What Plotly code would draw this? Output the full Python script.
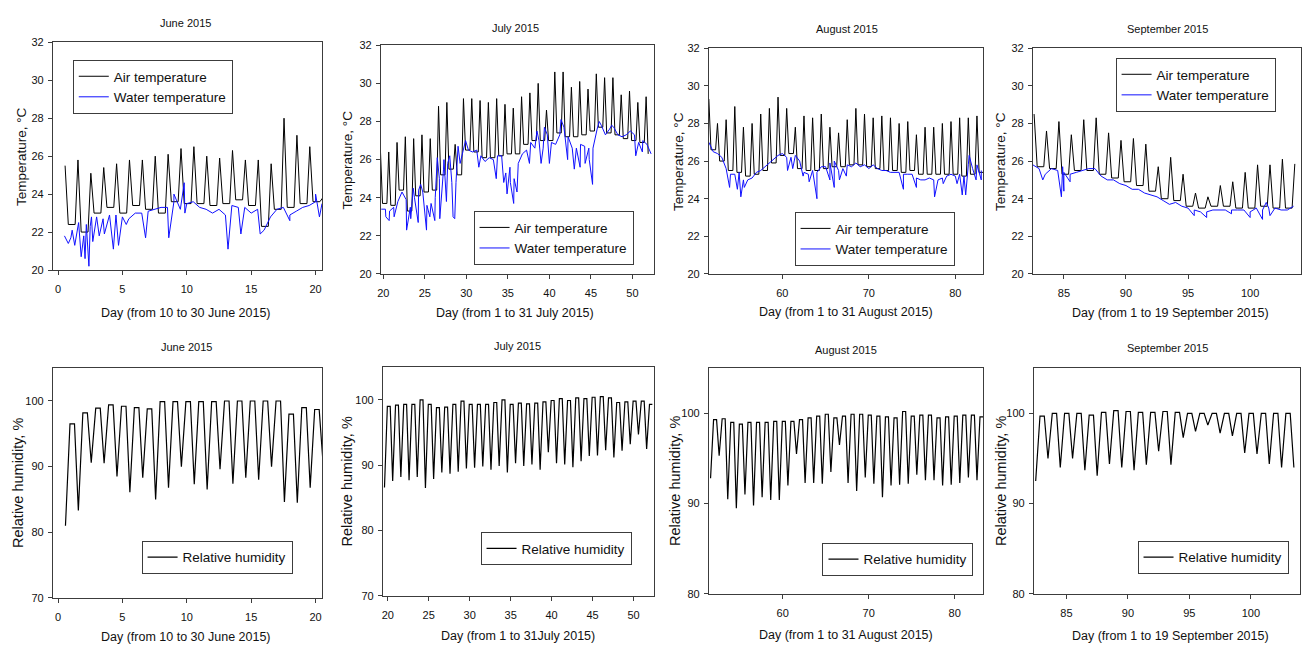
import plotly.graph_objects as go

# ---------------- data (Day index, values read per day) ----------------
# June: days 0..20
jun_days = list(range(0, 21))
jun_air_hi = [25.5, 25.8, 25.1, 25.4, 25.6, 25.8, 25.8, 26.0, 26.1, 26.4, 26.5, 26.0, 25.9, 26.3,
              25.8, 25.8, 25.6, 28.0, 27.1, 26.5, 23.8]
jun_air_lo = [25.0, 22.4, 22.0, 23.0, 23.3, 23.0, 23.4, 23.2, 23.0, 23.6, 23.5, 23.5, 23.4, 23.5,
              23.7, 23.4, 22.3, 23.2, 23.3, 23.5, 23.6]
jun_water_start = 0.5
jun_water = [21.8, 21.7, 22.1, 21.8, 22.3, 22.8, 22.7, 22.9, 22.9, 22.8, 22.7, 23.0, 23.0, 23.1,
             23.2, 23.3, 23.3, 23.6, 23.2, 23.5, 23.6, 23.3, 23.2, 23.0, 23.2, 22.9, 23.4, 23.3,
             23.3, 23.0, 23.2, 22.1, 22.8, 23.2, 23.3, 22.9, 23.1, 23.3, 23.4, 23.6, 23.5]
jun_water_spike_x = [0.8, 1.1, 1.3, 1.6, 1.8, 2.1, 2.2, 2.4, 2.6, 2.7, 3.2, 3.6, 4.3, 4.7, 5.3,
                     6.8, 8.6, 9.0, 9.8, 9.85, 13.2, 14.2, 15.7, 18.0, 20.0, 20.3]
jun_water_spike_y = [21.4, 22.1, 21.3, 22.5, 20.7, 20.6, 22.4, 20.2, 22.8, 21.5, 21.8, 21.9, 21.1,
                     21.3, 22.4, 21.7, 21.7, 24.0, 24.6, 23.0, 21.1, 21.9, 21.9, 22.6, 24.0, 22.8]
jun_rh_top = [84.0, 96.5, 98.2, 98.9, 99.4, 99.2, 99.0, 98.8, 99.9, 99.9, 99.9, 99.9, 99.9, 100.0,
              100.0, 100.0, 100.0, 100.0, 98.0, 99.0, 98.7]
jun_rh_low = [81.0, 83.3, 90.6, 90.5, 88.5, 86.1, 88.3, 85.0, 86.8, 90.0, 87.3, 86.5, 89.6, 87.4,
              88.3, 88.0, 90.0, 84.6, 84.5, 86.8, 90.5]

# July: days 19..52
jul_days = list(range(19, 53))
jul_air_hi = [26.5, 26.4, 26.9, 27.2, 27.1, 27.3, 27.1, 28.8, 29.0, 26.8, 29.2, 29.2, 29.1, 29.0,
              29.2, 28.9, 28.7, 29.3, 29.5, 30.0, 28.6, 30.6, 30.6, 29.8, 30.1, 29.7, 30.5, 30.3,
              30.3, 29.4, 29.6, 29.0, 29.3, 26.3]
jul_air_lo = [25.0, 23.7, 23.6, 24.4, 23.3, 24.1, 24.3, 24.4, 25.2, 25.5, 25.2, 26.5, 26.4, 26.1,
              26.1, 26.2, 26.3, 26.3, 26.8, 27.0, 27.0, 27.0, 27.4, 27.2, 27.2, 27.3, 27.5, 27.7,
              27.4, 27.3, 27.1, 27.0, 26.9, 26.3]
jul_water_start = 19.75
jul_water = [23.4, 23.4, 23.3, 23.5, 23.8, 24.3, 23.9, 23.5, 24.0, 24.4, 24.3, 23.6, 23.7, 24.0,
             25.0, 25.5, 25.8, 24.8, 24.8, 25.8, 26.8, 26.5, 26.4, 26.5, 26.2, 25.9, 26.1, 26.0,
             26.2, 26.2, 25.3, 25.6, 25.0, 25.8, 26.3, 26.5, 26.9, 26.6, 27.0, 26.6, 27.3, 26.9,
             26.8, 27.3, 27.7, 27.2, 26.6, 26.6, 26.8, 26.7, 26.6, 26.6, 27.6, 27.8, 27.3, 27.6,
             27.7, 27.3, 27.2, 27.3, 27.5, 27.3, 26.9, 27.0, 26.8, 26.3]
jul_water_spike_x = [20.3, 20.7, 21.3, 22.8, 23.3, 23.6, 24.2, 24.5, 25.2, 25.6, 26.2, 26.5, 26.8,
                     27.3, 27.6, 28.0, 28.4, 28.6, 29.0, 29.9, 31.5, 33.6, 34.5, 34.9, 35.3, 35.7,
                     36.1, 37.6, 38.5, 39.0, 39.4, 40.0, 41.4, 42.2, 43.0, 43.7, 44.3, 44.8, 45.2,
                     46.0, 47.5, 50.4, 51.2]
jul_water_spike_y = [23.0, 22.8, 23.0, 22.3, 22.9, 24.5, 22.7, 24.7, 22.3, 23.0, 22.8, 26.1, 22.9,
                     26.0, 23.8, 26.2, 23.0, 22.9, 26.7, 27.0, 25.6, 25.0, 24.8, 24.2, 24.8, 23.7,
                     24.3, 25.8, 27.5, 25.8, 27.7, 25.8, 28.1, 26.0, 25.5, 25.6, 25.8, 26.0, 24.7,
                     28.0, 27.8, 26.2, 26.4]
jul_rh_top = [90.0, 99.0, 99.2, 99.3, 99.3, 100.0, 99.3, 98.8, 98.9, 99.3, 99.8, 99.3, 99.3, 99.3,
              99.6, 100.0, 99.3, 99.5, 99.4, 99.5, 99.7, 99.9, 100.2, 99.9, 100.3, 100.2, 100.4,
              100.5, 100.3, 99.6, 99.7, 99.8, 99.8, 99.3]
jul_rh_low = [86.6, 87.6, 88.2, 87.7, 88.2, 86.5, 87.9, 88.9, 88.7, 89.0, 89.5, 89.6, 89.8, 89.3,
              89.9, 88.9, 90.3, 89.9, 90.1, 89.3, 92.0, 90.3, 90.1, 89.7, 90.6, 91.4, 91.5, 92.3,
              91.2, 92.2, 93.2, 94.7, 92.5, 98.0]

# August: days 51..83
aug_days = list(range(51, 84))
aug_air_hi = [29.3, 28.0, 28.2, 28.9, 27.8, 28.0, 28.5, 28.8, 29.4, 28.8, 27.8, 28.4, 28.3, 28.5,
              27.8, 27.5, 28.2, 28.8, 28.5, 28.3, 28.4, 28.3, 28.0, 28.1, 27.4, 27.8, 27.8, 28.0,
              28.1, 28.3, 28.3, 28.4, 27.0]
aug_air_lo = [27.0, 26.6, 26.0, 25.5, 25.4, 25.2, 25.3, 25.5, 25.9, 26.3, 26.4, 25.6, 25.5, 25.5,
              25.6, 25.7, 25.7, 25.8, 25.8, 25.7, 25.6, 25.5, 25.5, 25.4, 25.5, 25.3, 25.3, 25.3,
              25.3, 25.3, 25.2, 25.3, 25.4]
aug_water_start = 51.5
aug_water = [27.0, 26.5, 26.4, 26.2, 25.6, 25.3, 25.3, 25.4, 25.0, 25.0, 25.1, 25.4, 25.5, 25.7,
             25.9, 26.1, 26.3, 26.4, 26.2, 26.2, 26.3, 26.0, 25.4, 25.3, 25.5, 25.4, 25.7, 25.7,
             25.9, 26.0, 25.5, 25.6, 25.8, 25.7, 25.9, 25.7, 25.8, 25.6, 25.8, 25.6, 25.5, 25.5,
             25.4, 25.4, 25.4, 25.3, 25.3, 25.3, 25.1, 25.0, 25.0, 25.1, 25.0, 25.0, 25.1, 25.2,
             25.3, 25.2, 25.3, 25.2, 25.8, 25.6, 25.8, 25.5]
aug_water_spike_x = [53.9, 54.8, 55.2, 55.6, 60.6, 61.2, 62.4, 63.1, 64.0, 65.5, 66.0, 66.6, 67.4,
                     74.0, 75.5, 77.6, 78.6, 80.2, 80.8, 81.2, 81.6, 82.4, 83.0]
aug_water_spike_y = [24.6, 24.5, 24.1, 24.6, 25.5, 25.6, 25.2, 24.9, 24.0, 25.0, 24.6, 25.0, 25.2,
                     24.5, 24.6, 24.1, 24.8, 24.8, 24.2, 24.2, 26.3, 25.0, 25.0]
aug_rh_top = [95.3, 99.3, 99.4, 99.0, 98.8, 99.0, 99.0, 99.0, 99.1, 99.1, 99.1, 99.3, 99.5, 99.7,
              99.9, 99.5, 99.7, 99.9, 99.9, 99.8, 99.7, 99.6, 99.5, 100.2, 99.7, 99.8, 99.8, 99.5,
              99.6, 99.7, 99.8, 99.8, 99.6]
aug_rh_low = [92.8, 95.3, 90.5, 89.5, 91.0, 89.8, 90.7, 90.4, 90.4, 92.0, 95.5, 92.3, 92.3, 92.2,
              93.5, 96.5, 92.3, 91.4, 92.9, 92.2, 90.7, 92.0, 92.1, 92.2, 93.2, 92.6, 92.6, 92.0,
              92.1, 92.3, 92.9, 92.6, 96.3]

# September: days 82..103
sep_days = list(range(82, 104))
sep_air_hi = [28.5, 27.6, 28.1, 27.4, 28.2, 28.3, 27.5, 27.1, 27.2, 26.9, 25.7, 26.2, 25.3, 24.3,
              24.1, 24.7, 24.9, 25.4, 25.8, 25.8, 26.1, 25.85]
sep_air_lo = [28.0, 25.7, 25.6, 25.3, 25.5, 25.5, 25.3, 25.1, 24.9, 24.7, 24.4, 24.0, 23.9, 23.6,
              23.5, 23.6, 23.6, 23.5, 23.5, 23.6, 23.5, 23.5]
sep_water_start = 82.5
sep_water = [25.8, 25.6, 25.3, 25.6, 25.5, 25.4, 25.3, 25.4, 25.5, 25.6, 25.6, 25.2, 25.0, 25.0,
             24.8, 24.7, 24.5, 24.5, 24.3, 24.2, 24.1, 23.9, 23.7, 23.8, 23.6, 23.5, 23.4, 23.3,
             23.3, 23.4, 23.4, 23.4, 23.4, 23.4, 23.4, 23.3, 23.5, 23.4, 23.5, 23.5, 23.4, 23.4,
             23.6]
sep_water_spike_x = [83.3, 84.8, 84.9, 85.0, 85.5, 95.5, 96.5, 98.5, 100.0, 101.0, 101.3, 101.6]
sep_water_spike_y = [25.0, 24.1, 25.7, 24.4, 24.9, 23.1, 23.0, 23.2, 23.0, 22.9, 23.8, 23.1]
sep_rh_top = [93.0, 99.7, 100.0, 100.0, 100.0, 99.8, 100.1, 100.3, 100.2, 100.1, 100.1, 100.2,
              100.1, 100.0, 100.0, 100.0, 100.0, 100.0, 100.0, 100.0, 100.0, 100.0]
sep_rh_low = [92.5, 95.0, 94.0, 95.0, 93.7, 93.1, 94.4, 94.0, 93.7, 94.3, 95.8, 94.3, 97.3, 98.0,
              98.7, 97.8, 97.5, 95.6, 95.5, 94.4, 94.0, 94.0]

# ---------------- helpers ----------------
W, H = 1309, 649
FONT = "Liberation Sans, Arial, sans-serif"
AIR_COLOR = "#000000"
WATER_COLOR = "#1010ff"
FRAME = "#3c3c3c"


def daily_cycle(days, base, extreme, t_ext, lead, lag, start, end):
    """One excursion per day: level `base` until `lead` days before the
    extreme at day+t_ext, back to the next day's base `lag` days after."""
    xs, ys = [], []
    for d, b, e in zip(days, base, extreme):
        for x, y in ((d + t_ext - (1 - lag), b), (d + t_ext - lead, b), (d + t_ext, e)):
            if start <= x <= end:
                xs.append(round(x, 3))
                ys.append(y)
    return xs, ys


def half_day_series(start, levels, spike_x, spike_y):
    pts = [(start + 0.5 * k, v) for k, v in enumerate(levels)]
    pts += list(zip(spike_x, spike_y))
    pts.sort()
    return [p[0] for p in pts], [p[1] for p in pts]


def px_box(x0, y0, x1, y1):
    return [x0 / W, x1 / W], [1 - y1 / H, 1 - y0 / H]


# ---------------- panel definitions ----------------
panels = [
    # temperature row
    dict(box=(49, 37, 319, 269), xr=[-0.4, 20.5], yr=[20, 32], xt=[0, 5, 10, 15, 20],
         yt=[20, 22, 24, 26, 28, 30, 32], title="June 2015", title_xy=(182, 17),
         xtitle="Day (from 10 to 30 June 2015)", xtitle_xy=(183, 313),
         ytitle="Temperature, °C", ytitle_x=17, leg=(69, 55)),
    dict(box=(378, 40, 652, 273), xr=[19.7, 52.6], yr=[20, 32], xt=[20, 25, 30, 35, 40, 45, 50],
         yt=[20, 22, 24, 26, 28, 30, 32], title="July 2015", title_xy=(513, 22),
         xtitle="Day (from 1 to 31 July 2015)", xtitle_xy=(513, 313),
         ytitle="Temperature, °C", ytitle_x=345, leg=(471, 209)),
    dict(box=(707, 43, 982, 273), xr=[51.5, 83.2], yr=[20, 32], xt=[60, 70, 80],
         yt=[20, 22, 24, 26, 28, 30, 32], title="August 2015", title_xy=(846, 23),
         xtitle="Day (from 1 to 31 August 2015)", xtitle_xy=(845, 312),
         ytitle="Temperature, °C", ytitle_x=676, leg=(793, 210)),
    dict(box=(1032, 43, 1301, 273), xr=[82.5, 104.1], yr=[20, 32], xt=[85, 90, 95, 100],
         yt=[20, 22, 24, 26, 28, 30, 32], title="September 2015", title_xy=(1167, 23),
         xtitle="Day (from 1 to 19 September 2015)", xtitle_xy=(1170, 313),
         ytitle="Temperature, °C", ytitle_x=999, leg=(1115, 53)),
    # humidity row
    dict(box=(49, 369, 319, 603), xr=[-0.4, 20.5], yr=[70, 105], xt=[0, 5, 10, 15, 20],
         yt=[70, 80, 90, 100], title="June 2015", title_xy=(183, 347),
         xtitle="Day (from 10 to 30 June 2015)", xtitle_xy=(183, 643),
         ytitle="Relative humidity, %", ytitle_x=14, leg=(138, 545)),
    dict(box=(380, 368, 652, 601), xr=[19.4, 52.5], yr=[70, 105], xt=[20, 25, 30, 35, 40, 45, 50],
         yt=[70, 80, 90, 100], title="July 2015", title_xy=(515, 346),
         xtitle="Day (from 1 to 31July 2015)", xtitle_xy=(516, 642),
         ytitle="Relative humidity, %", ytitle_x=344, leg=(478, 536)),
    dict(box=(707, 369, 982, 599), xr=[51.4, 83.3], yr=[80, 105], xt=[60, 70, 80],
         yt=[80, 90, 100], title="August 2015", title_xy=(845, 350),
         xtitle="Day (from 1 to 31 August 2015)", xtitle_xy=(845, 641),
         ytitle="Relative humidity, %", ytitle_x=673, leg=(821, 547)),
    dict(box=(1033, 369, 1300, 599), xr=[82.35, 104.0], yr=[80, 105], xt=[85, 90, 95, 100],
         yt=[80, 90, 100], title="September 2015", title_xy=(1167, 348),
         xtitle="Day (from 1 to 19 September 2015)", xtitle_xy=(1170, 642),
         ytitle="Relative humidity, %", ytitle_x=1000, leg=(1137, 545)),
]

# series per panel
temp_sets = [
    (jun_days, jun_air_lo, jun_air_hi, 0.55, 0.5, 20.6,
     jun_water_start, jun_water, jun_water_spike_x, jun_water_spike_y),
    (jul_days, jul_air_lo, jul_air_hi, 0.65, 19.6, 52.4,
     jul_water_start, jul_water, jul_water_spike_x, jul_water_spike_y),
    (aug_days, aug_air_lo, aug_air_hi, 0.5, 51.45, 83.3,
     aug_water_start, aug_water, aug_water_spike_x, aug_water_spike_y),
    (sep_days, sep_air_lo, sep_air_hi, 0.6, 82.45, 103.6,
     sep_water_start, sep_water, sep_water_spike_x, sep_water_spike_y),
]
rh_sets = [
    (jun_days, jun_rh_top, jun_rh_low, 0.58, 0.45, 20.6),
    (jul_days, jul_rh_top, jul_rh_low, 0.6, 19.45, 52.45),
    (aug_days, aug_rh_top, aug_rh_low, 0.6, 51.45, 83.3),
    (sep_days, sep_rh_top, sep_rh_low, 0.5, 82.45, 103.55),
]

fig = go.Figure()
layout = dict(width=W, height=H, margin=dict(l=0, r=0, t=0, b=0),
              paper_bgcolor="white", plot_bgcolor="white", showlegend=True,
              font=dict(family=FONT, color="#111111"))
annotations = []

for i, p in enumerate(panels):
    n = i + 1
    sfx = "" if n == 1 else str(n)
    xd, yd = px_box(*p["box"])
    axis_common = dict(showline=True, mirror=True, linecolor=FRAME, linewidth=1,
                       ticks="outside", ticklen=4, tickwidth=1, tickcolor=FRAME,
                       showgrid=False, zeroline=False,
                       tickfont=dict(family=FONT, size=11, color="#111111"))
    layout["xaxis" + sfx] = dict(axis_common, domain=xd, range=p["xr"], tickvals=p["xt"],
                                 anchor="y" + sfx, ticklabelstandoff=5)
    layout["yaxis" + sfx] = dict(axis_common, domain=yd, range=p["yr"], tickvals=p["yt"],
                                 anchor="x" + sfx, ticklabelstandoff=2)
    leg_name = "legend" + sfx
    lx, ly = p["leg"]
    layout[leg_name] = dict(x=lx / W, y=1 - ly / H, xanchor="left", yanchor="top",
                            bgcolor="white", bordercolor=FRAME, borderwidth=1,
                            font=dict(family=FONT, size=13.5, color="#111111"),
                            itemwidth=30, tracegroupgap=0, traceorder="normal")

    if i < 4:
        days, lo, hi, tp, s, e, ws, wl, sx, sy = temp_sets[i]
        ax_x, ax_y = daily_cycle(days, lo, hi, tp, 0.22, 0.25, s, e)
        wx, wy = half_day_series(ws, wl, sx, sy)
        fig.add_trace(go.Scatter(x=ax_x, y=ax_y, mode="lines", name="Air temperature",
                                 line=dict(color=AIR_COLOR, width=1),
                                 xaxis="x" + sfx, yaxis="y" + sfx, legend=leg_name))
        fig.add_trace(go.Scatter(x=wx, y=wy, mode="lines", name="Water temperature",
                                 line=dict(color=WATER_COLOR, width=1),
                                 xaxis="x" + sfx, yaxis="y" + sfx, legend=leg_name))
    else:
        days, top, low, td, s, e = rh_sets[i - 4]
        rx, ry = daily_cycle(days, top, low, td, 0.3, 0.35, s, e)
        fig.add_trace(go.Scatter(x=rx, y=ry, mode="lines", name="Relative humidity",
                                 line=dict(color="#000000", width=1.2),
                                 xaxis="x" + sfx, yaxis="y" + sfx, legend=leg_name))

    tx, ty = p["title_xy"]
    annotations.append(dict(text=p["title"], x=tx / W, y=1 - ty / H, xref="paper",
                            yref="paper", showarrow=False, xanchor="center",
                            yanchor="middle", font=dict(family=FONT, size=11)))
    ax, ay = p["xtitle_xy"]
    annotations.append(dict(text=p["xtitle"], x=ax / W, y=1 - ay / H, xref="paper",
                            yref="paper", showarrow=False, xanchor="center",
                            yanchor="middle", font=dict(family=FONT, size=12.5)))
    ycen = (p["box"][1] + p["box"][3]) / 2
    annotations.append(dict(text=p["ytitle"], x=p["ytitle_x"] / W, y=1 - ycen / H,
                            xref="paper", yref="paper", showarrow=False, textangle=-90,
                            xanchor="center", yanchor="middle",
                            font=dict(family=FONT, size=13.5 if i < 4 else 14.5)))

layout["annotations"] = annotations
fig.update_layout(**layout)
fig.write_html("out.html")
